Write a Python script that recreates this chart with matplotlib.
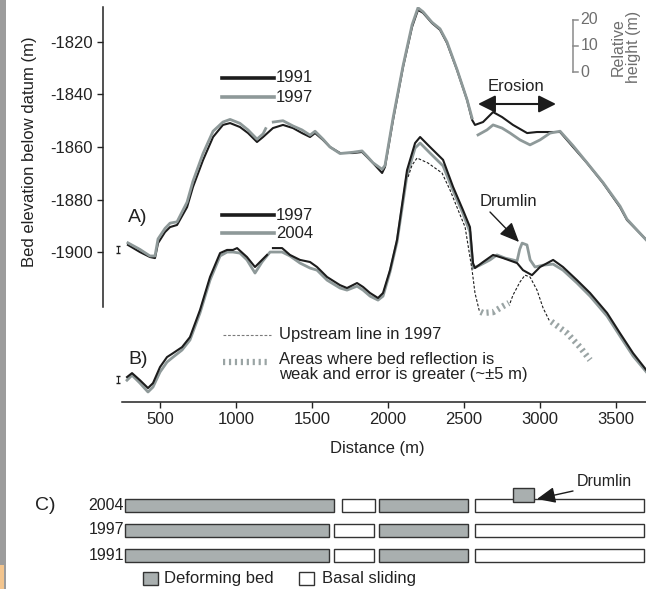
import numpy as np
import matplotlib
matplotlib.use("Agg")
import matplotlib.pyplot as plt
from matplotlib.lines import Line2D
from matplotlib.patches import Rectangle

plt.rcParams['font.family'] = ['Liberation Sans', 'DejaVu Sans']
plt.rcParams['axes.unicode_minus'] = False

nan = np.nan

# --- profile A : 1991 and 1997 bed elevation (m) vs distance (m)
a91_x = [289, 368, 434, 467, 487, 533, 566, 612, 678, 717, 783, 849, 914, 961, 1026, 1079, 1138, 1178, 1243, 1309,
         1375, 1434, 1487, 1520, 1572, 1618, 1684, 1770, 1829, 1862, 1901, 1961, 1980, 2033, 2099, 2158, 2197, 2230,
         2289, 2342, 2388, 2454, 2520, 2553, 2572, 2625, 2691, 2750, 2822, 2915, 2980, 3066, 3132, 3217, 3309, 3414,
         3526, 3572, 3700]
a91_y = [-1897.3, -1900, -1901.9, -1902.3, -1896.6, -1892.4, -1890.5, -1889.7, -1882.9, -1875.2, -1865, -1856.2,
         -1851.6, -1850.9, -1852.4, -1854.7, -1858.1, -1856.2, -1852.8, -1851.6, -1852.8, -1854.7, -1856.2, -1854.7,
         -1857.3, -1860, -1862.3, -1862.3, -1861.9, -1863.8, -1866.1, -1869.9, -1867.6, -1849.7, -1829.5, -1814.3,
         -1807.8, -1808.9, -1812.8, -1815.4, -1820.4, -1830.7, -1842.1, -1849.7, -1851.6, -1850.5, -1846.7, -1848.6,
         -1851.6, -1854.7, -1854.3, -1854.3, -1854.3, -1860, -1866.1, -1873.7, -1882.9, -1887.8, -1895.4]

a97_x = [289, 368, 434, 467, 487, 533, 566, 612, 678, 717, 783, 849, 914, 961, 1026, 1079, 1138, 1178, 1195, nan,
         1245, 1309, 1375, 1434, 1487, 1520, 1572, 1618, 1684, 1770, 1829, 1862, 1901, 1961, 1980, 2033, 2099, 2158,
         2197, 2230, 2289, 2342, 2388, 2454, 2520, 2553, nan,
         2592, 2651, 2691, 2750, 2803, 2868, 2934, 3000, 3066, 3132, 3217, 3309, 3414, 3526, 3572, 3700]
a97_y = [-1896.5, -1899, -1901.5, -1901.5, -1895, -1891, -1889, -1888.5, -1881, -1873, -1862.5, -1854, -1850.5,
         -1849.5, -1851, -1853.5, -1857, -1855, -1853, nan,
         -1850.5, -1850, -1852, -1853.5, -1855.5, -1854, -1857, -1860, -1862.5, -1862, -1861.5, -1863.5, -1866,
         -1868.5, -1867, -1849, -1829, -1813.5, -1807, -1808.5, -1812.5, -1815, -1820, -1830.5, -1842, -1849, nan,
         -1855.4, -1853.5, -1851.6, -1852.8, -1854.7, -1857.3, -1859.2, -1857.3, -1854.7, -1854, -1859.5, -1866,
         -1873.5, -1882.5, -1887.5, -1895.5]

# --- profile B : 1997 and 2004 (plotted with offset below A)
b97_x = [283, 316, 368, 421, 454, 500, 546, 586, 645, 697, 763, 829, 895, 941, 980, 1007, 1072, 1125, 1171, 1204,
         nan, 1243, 1303, 1355, 1421, 1487, 1533, 1599, 1684, 1730, 1796, 1836, 1882, 1934, 1967, 2013, 2059, 2125,
         2178, 2211, 2276, 2362, 2428, 2493, 2539, 2559, 2572, 2625, 2691, 2757, 2849, 2888, 2947, 3000, 3086, 3151,
         3243, 3329, 3441, 3526, 3612, 3700]
b97_y = [-1947.6, -1946.1, -1948.8, -1951.8, -1949.9, -1943.8, -1940, -1938.5, -1936.2, -1932.4, -1922.1, -1909.5,
         -1900.4, -1899.2, -1899.2, -1898.5, -1901.9, -1905.7, -1903, -1901.1, nan,
         -1898.5, -1898.5, -1901.1, -1903, -1903.8, -1905.7, -1909.5, -1912.6, -1913.7, -1911.8, -1913.3, -1915.6,
         -1917.5, -1915.6, -1906.9, -1895.4, -1868.8, -1858.5, -1856.2, -1860, -1864.9, -1875.2, -1884, -1890.5,
         -1904.2, -1906.1, -1903.8, -1901.1, -1902.3, -1904.2, -1906.9, -1908.8, -1905.7, -1903, -1905.7, -1910.7,
         -1915.6, -1923.2, -1930.9, -1938.5, -1945]

b04_x = [283, 316, 368, 421, 454, 500, 546, 586, 645, 697, 763, 829, 895, 941, 980, 1026, 1072, 1125, 1171, 1224,
         1303, 1355, 1421, 1487, 1533, 1599, 1684, 1730, 1796, 1836, 1882, 1934, 1967, 2013, 2059, 2125, 2178, 2211,
         2276, 2362, 2428, 2493, 2539, 2559, 2605, 2671, 2717, 2770, 2849, 2866, 2882, 2914, 2935, 2967, 3020, 3086,
         3151, 3243, 3329, 3441, 3526, 3612, 3700]
b04_y = [-1948.8, -1946.9, -1949.9, -1953.3, -1951.4, -1945.7, -1941.9, -1940, -1937.3, -1933.5, -1923.2, -1910.7,
         -1901.5, -1900, -1900, -1900.4, -1903, -1908, -1903.8, -1900, -1900, -1901.5, -1904.2, -1906.1, -1906.9,
         -1910.7, -1913.7, -1914.5, -1913, -1914.5, -1916.8, -1918.3, -1916.8, -1907.6, -1896.2, -1870.7, -1860.4,
         -1858.5, -1862.3, -1867.2, -1876.6, -1885.3, -1892.4, -1906.1, -1905, -1903, -1901.1, -1902.3, -1903.4,
         -1899, -1896.6, -1897.3, -1903, -1905.7, -1905, -1904.6, -1906.9, -1911.8, -1916.8, -1924.4, -1932, -1939.6,
         -1945.7]

# upstream line in 1997 (dashed) and weak reflection areas (thick dotted)
up_x = [2132, 2158, 2191, 2263, 2355, 2408, 2461, 2507, 2553, 2572, 2600, nan,
        2803, 2822, 2868, 2901, 2934, 2980, 3020, 3060]
up_y = [-1871.4, -1866.9, -1864.2, -1866.1, -1869.9, -1876.4, -1884, -1890.5, -1906.9, -1915.6, -1922.3, nan,
        -1919.4, -1916.4, -1911.4, -1908.8, -1909.5, -1914.5, -1921.3, -1926]
weak_x = [2610, 2625, 2691, 2757, 2795, nan, 3075, 3178, 3263, 3329]
weak_y = [-1922.8, -1923.2, -1922.9, -1920.6, -1919.4, nan, -1926.5, -1930.9, -1936.2, -1941.1]

# --- panel C : bed state segments (start, end) in m
c_years = ['1991', '1997', '2004']
c_deform = {'1991': [(273, 1612), (1943, 2528)],
            '1997': [(273, 1612), (1943, 2528)],
            '2004': [(273, 1645), (1943, 2528)]}
c_sliding = {'1991': [(1645, 1911), (2574, 3684)],
             '1997': [(1645, 1911), (2574, 3684)],
             '2004': [(1695, 1911), (2574, 3684)]}
drumlin_2004 = (2822, 2961)

W, H = 646, 589
def fx(p):
    return p / W
def fy(p):
    return 1 - p / H

BLACK = '#1c1c1c'
GREY = '#8e9999'
TXT = '#222222'
FILL = '#a9afaf'

fig = plt.figure(figsize=(W / 100, H / 100), dpi=100)

# left page edge strip
fig.add_artist(Rectangle((0, 0), fx(6), 1, transform=fig.transFigure, color='#9c9c9c', lw=0))
fig.add_artist(Rectangle((0, 0), fx(4), 24 / H, transform=fig.transFigure, color='#f3c58e', lw=0))

ax = fig.add_axes([fx(103), fy(402), fx(646) - fx(103), (402 - 7) / H])
ax.set_xlim(125, 3697)
ax.set_ylim(-1957.1, -1806.7)

ax.plot(a91_x, a91_y, color=BLACK, lw=1.5)
ax.plot(a97_x, a97_y, color=GREY, lw=2.0)
ax.plot(b04_x, b04_y, color=GREY, lw=2.0)
ax.plot(b97_x, b97_y, color=BLACK, lw=1.5)
ax.plot(up_x, up_y, color=BLACK, lw=0.8, ls=(0, (2.5, 1.6)))
ax.plot(weak_x, weak_y, color='#9aa4a4', lw=4.5, ls=(0, (0.35, 0.6)))

# small error markers at start of profiles
ax.errorbar([224, 224], [-1899, -1948.5], yerr=1.2, fmt='none', ecolor=TXT, elinewidth=0.8, capsize=1.5)

for s in ['top', 'right']:
    ax.spines[s].set_visible(False)
ax.spines['left'].set_bounds(-1921, -1806.7)
ax.spines['bottom'].set_bounds(250, 3697)
for s in ['left', 'bottom']:
    ax.spines[s].set_linewidth(1.1)
    ax.spines[s].set_color(TXT)
ax.set_yticks([-1820, -1840, -1860, -1880, -1900])
ax.set_xticks([500, 1000, 1500, 2000, 2500, 3000, 3500])
ax.tick_params(direction='out', length=4.5, width=1, labelsize=12, pad=3, colors=TXT)

# relative height scale bar
sb_x = 3217
sb_y = [-1831.5, -1821.5, -1811.5]
ax.plot([sb_x, sb_x], [sb_y[0], sb_y[-1]], color='#8a8a8a', lw=1.1)
for v, lab in zip(sb_y, ['0', '10', '20']):
    ax.plot([sb_x, sb_x + 30], [v, v], color='#8a8a8a', lw=1.1)
    ax.text(sb_x + 50, v, lab, fontsize=11.5, color='#6e6e6e', va='center', ha='left')
fig.text(fx(626), fy(47), 'Relative\nheight (m)', rotation=90, ha='center', va='center',
         fontsize=11.5, color='#6e6e6e', linespacing=1.0)

# legends
for y, c, lab in [(78, BLACK, '1991'), (97, GREY, '1997'), (215, BLACK, '1997'), (233, GREY, '2004')]:
    fig.add_artist(Line2D([fx(222), fx(274)], [fy(y), fy(y)], color=c, lw=2.6, transform=fig.transFigure))
    fig.text(fx(276), fy(y), lab, fontsize=12, color=TXT, va='center', ha='left')

fig.add_artist(Line2D([fx(223), fx(271)], [fy(335), fy(335)], color='#7a7a7a', lw=0.8,
                      ls=(0, (2.5, 1.6)), transform=fig.transFigure))
fig.text(fx(279), fy(335), 'Upstream line in 1997', fontsize=12, color=TXT, va='center')
fig.add_artist(Line2D([fx(223), fx(270)], [fy(362), fy(362)], color='#9aa4a4', lw=4.5,
                      ls=(0, (0.35, 0.6)), transform=fig.transFigure))
fig.text(fx(279), fy(367), 'Areas where bed reflection is\nweak and error is greater (~\u00b15 m)',
         fontsize=12, color=TXT, va='center', linespacing=1.05)

fig.text(fx(128), fy(217), 'A)', fontsize=14, color=TXT, va='center')
fig.text(fx(128), fy(360), 'B)', fontsize=14, color=TXT, va='center')

fig.text(fx(516), fy(87), 'Erosion', fontsize=12, color=TXT, ha='center', va='center')
ax.annotate('', xy=(fx(556), fy(104)), xytext=(fx(478), fy(104)), xycoords='figure fraction',
            arrowprops=dict(arrowstyle='<|-|>,head_length=0.7,head_width=0.35', color=BLACK, lw=1.5,
                            mutation_scale=15, shrinkA=0, shrinkB=0))

fig.text(fx(508), fy(202), 'Drumlin', fontsize=12, color=TXT, ha='center', va='center')
ax.annotate('', xy=(fx(519), fy(242)), xytext=(fx(490), fy(212)), xycoords='figure fraction',
            arrowprops=dict(arrowstyle='-|>,head_length=0.8,head_width=0.35', color=BLACK, lw=1,
                            mutation_scale=15, shrinkA=0, shrinkB=0))

fig.text(fx(108) + (fx(646) - fx(108)) / 2, fy(448), 'Distance (m)', fontsize=12, color=TXT,
         ha='center', va='center')
fig.text(fx(30), fy(152), 'Bed elevation below datum (m)', rotation=90, fontsize=12, color=TXT,
         ha='center', va='center')

# --- panel C
cx = fig.add_axes([fx(103), fy(570), fx(646) - fx(103), 90 / H])
cx.set_xlim(125, 3697)
cx.set_ylim(-0.6, 3.0)
cx.axis('off')
for row, yr in enumerate(c_years):
    for a, b in c_deform[yr]:
        cx.barh(row, b - a, left=a, height=0.52, color=FILL, edgecolor='#333333', lw=1)
    for a, b in c_sliding[yr]:
        cx.barh(row, b - a, left=a, height=0.52, color='white', edgecolor='#333333', lw=1)
    cx.text(262, row, yr, ha='right', va='center', fontsize=11.5, color=TXT)
cx.barh(2.4, drumlin_2004[1] - drumlin_2004[0], left=drumlin_2004[0], height=0.56,
        color=FILL, edgecolor='#333333', lw=1, zorder=3)

fig.text(fx(35), fy(506), 'C)', fontsize=14, color=TXT, va='center')
fig.text(fx(577), fy(482), 'Drumlin', fontsize=11.5, color=TXT, va='center')
cx.annotate('', xy=(fx(537), fy(499)), xytext=(fx(573), fy(491)), xycoords='figure fraction',
            arrowprops=dict(arrowstyle='-|>,head_length=0.8,head_width=0.35', color=BLACK, lw=1,
                            mutation_scale=14, shrinkA=0, shrinkB=0))

fig.add_artist(Rectangle((fx(143), fy(585)), 15 / W, 13 / H, transform=fig.transFigure,
                         facecolor=FILL, edgecolor='#333333', lw=1))
fig.text(fx(164), fy(578), 'Deforming bed', fontsize=12, color=TXT, va='center')
fig.add_artist(Rectangle((fx(299), fy(585)), 15 / W, 13 / H, transform=fig.transFigure,
                         facecolor='white', edgecolor='#333333', lw=1))
fig.text(fx(322), fy(578), 'Basal sliding', fontsize=12, color=TXT, va='center')

fig.savefig('out.png', dpi=100)
